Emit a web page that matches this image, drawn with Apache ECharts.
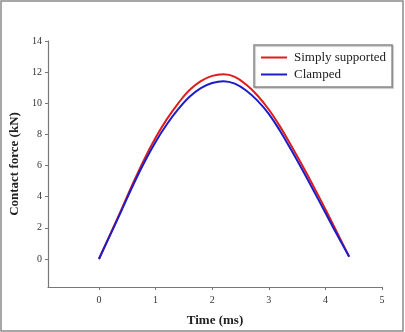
<!DOCTYPE html>
<html>
<head>
<meta charset="utf-8">
<script src="https://cdn.jsdelivr.net/npm/echarts@6/dist/echarts.min.js"></script>
<style>
html,body{margin:0;padding:0;background:#fff;}
#main{width:405px;height:332px;}
</style>
</head>
<body>
<div id="main"></div>
<script>
// 读图估计的数据
var time = [0, 0.2, 0.4, 0.6, 0.8, 1.0, 1.2, 1.4, 1.6, 1.8, 2.0, 2.2, 2.4, 2.6, 2.8, 3.0, 3.2, 3.4, 3.6, 3.8, 4.0, 4.2, 4.42];
var simplySupported = [0, 1.6, 3.2, 4.85, 6.4, 7.78, 8.98, 10.0, 10.85, 11.42, 11.76, 11.86, 11.7, 11.2, 10.5, 9.6, 8.5, 7.25, 5.95, 4.6, 3.2, 1.75, 0.15];
var clamped = [0, 1.55, 3.12, 4.72, 6.2, 7.52, 8.65, 9.62, 10.42, 10.98, 11.3, 11.42, 11.26, 10.82, 10.17, 9.32, 8.22, 6.98, 5.68, 4.33, 2.97, 1.6, 0.15];
var xTicks = [0, 1, 2, 3, 4, 5];
var yTicks = [0, 2, 4, 6, 8, 10, 12, 14];
var seriesNames = ['Simply supported', 'Clamped'];

function pairs(xs, ys) {
    var out = [];
    for (var i = 0; i < xs.length; i++) out.push([xs[i], ys[i]]);
    return out;
}

var serif = '"Liberation Serif", "Times New Roman", serif';
var myChart = echarts.init(document.getElementById('main'));

var option = {
    animation: false,
    graphic: [{
        type: 'rect',
        shape: {x: 1, y: 1, width: 402, height: 330},
        style: {fill: 'none', stroke: '#8a8a8a', lineWidth: 1.5},
        silent: true
    }],
    grid: {left: 42, right: 23, top: 41, bottom: 43},
    legend: {
        orient: 'vertical',
        left: 254,
        top: 45,
        width: 128,
        padding: [6, 6, 6, 6],
        itemGap: 4,
        itemWidth: 26,
        itemHeight: 14,
        itemStyle: {opacity: 0},
        lineStyle: {width: 2},
        borderColor: '#8a8a8a',
        borderWidth: 1.5,
        backgroundColor: '#fff',
        shadowColor: 'rgba(0,0,0,0.25)',
        shadowOffsetX: 1,
        shadowOffsetY: 1,
        shadowBlur: 1,
        textStyle: {fontFamily: serif, fontSize: 13, color: '#222', padding: [0, 0, 0, 2]},
        data: seriesNames
    },
    xAxis: {
        type: 'value',
        min: -0.9,
        max: 5,
        name: 'Time (ms)',
        nameLocation: 'middle',
        nameGap: 27,
        nameTextStyle: {fontFamily: serif, fontSize: 13, fontWeight: 'bold', color: '#222'},
        axisLine: {onZero: false, lineStyle: {color: '#777', width: 1.2}},
        axisTick: {show: true, length: 3, customValues: xTicks, lineStyle: {color: '#777'}},
        axisLabel: {customValues: xTicks, fontFamily: serif, fontSize: 10, color: '#333', margin: 8},
        splitLine: {show: false}
    },
    yAxis: {
        type: 'value',
        min: -1.8,
        max: 14,
        name: 'Contact force (kN)',
        nameLocation: 'middle',
        nameGap: 27,
        nameTextStyle: {fontFamily: serif, fontSize: 13, fontWeight: 'bold', color: '#222'},
        axisLine: {show: true, onZero: false, lineStyle: {color: '#777', width: 1.2}},
        axisTick: {show: true, length: 3, customValues: yTicks, lineStyle: {color: '#777'}},
        axisLabel: {customValues: yTicks, fontFamily: serif, fontSize: 10, color: '#333', margin: 6},
        splitLine: {show: false}
    },
    series: [
        {
            name: seriesNames[0],
            type: 'line',
            smooth: 0.4,
            symbol: 'none',
            lineStyle: {color: '#dd1c1c', width: 2},
            itemStyle: {color: '#dd1c1c'},
            data: pairs(time, simplySupported)
        },
        {
            name: seriesNames[1],
            type: 'line',
            smooth: 0.4,
            symbol: 'none',
            lineStyle: {color: '#1c1cc8', width: 2},
            itemStyle: {color: '#1c1cc8'},
            data: pairs(time, clamped)
        }
    ]
};

myChart.setOption(option);
</script>
</body>
</html>
